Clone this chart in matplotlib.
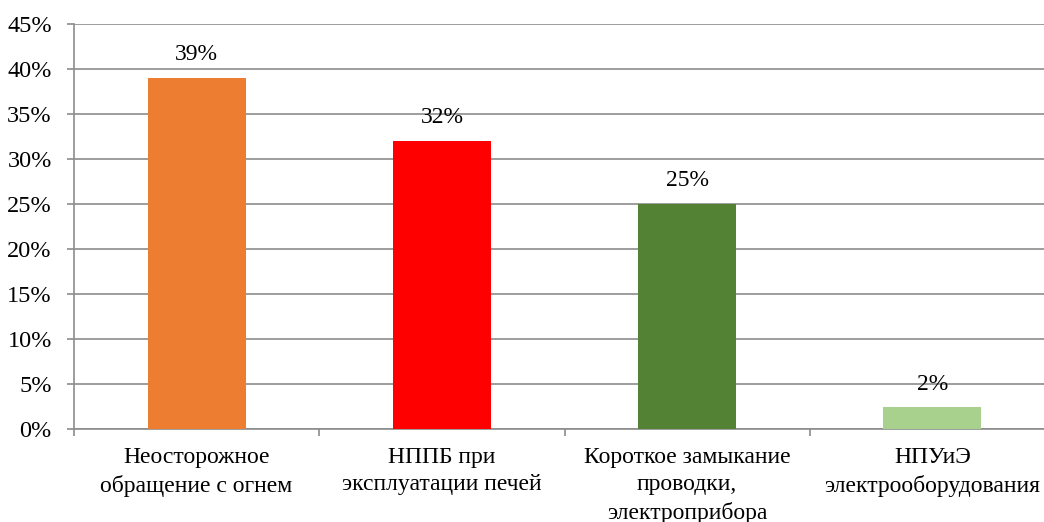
import matplotlib
matplotlib.use('Agg')
import matplotlib.pyplot as plt
from matplotlib.ticker import FuncFormatter, MultipleLocator, FixedLocator

categories = ['Неосторожное\nобращение с огнем',
              'НППБ при\nэксплуатации печей',
              'Короткое замыкание\nпроводки,\nэлектроприбора',
              'НПУиЭ\nэлектрооборудования']
values = [39, 32, 25, 2.4]
value_labels = ['39%', '32%', '25%', '2%']
colors = ['#ED7D31', '#FF0000', '#548235', '#A9D18E']

plt.rcParams['font.family'] = ['Liberation Serif', 'DejaVu Serif']

W, H = 1044, 522
fig = plt.figure(figsize=(W / 100, H / 100), dpi=100)
# plot area runs a bit past the right edge of the picture
ax = fig.add_axes([74 / W, (H - 429) / H, (1055 - 74) / W, (429 - 24) / H])

x = range(len(categories))
ax.bar(x, values, width=0.4, color=colors, zorder=3)
for xi, v, lab in zip(x, values, value_labels):
    ax.annotate(lab, (xi, v), xytext=(0, 9), textcoords='offset points',
                ha='center', va='bottom', fontsize=17, zorder=4)

ax.set_xlim(-0.5, len(categories) - 0.5)
ax.set_ylim(0, 45)
ax.yaxis.set_major_locator(MultipleLocator(5))
ax.yaxis.set_major_formatter(FuncFormatter(lambda v, p: '{:.0f}%'.format(v)))
ax.grid(axis='y', color='#8c8c8c', linewidth=1.2, zorder=0)

ax.set_xticks(list(x))
ax.set_xticklabels(categories, fontsize=17, linespacing=1.38)
ax.tick_params(axis='x', length=0, pad=13)
ax.xaxis.set_minor_locator(FixedLocator([i + 0.5 for i in range(-1, len(categories))]))
ax.tick_params(axis='x', which='minor', length=5, color='#8c8c8c', width=1.2)
ax.tick_params(axis='y', length=5, color='#8c8c8c', width=1.2, labelsize=17.5, pad=11)

for side in ['top', 'right']:
    ax.spines[side].set_visible(False)
for side in ['left', 'bottom']:
    ax.spines[side].set_color('#8c8c8c')
    ax.spines[side].set_linewidth(1.2)

fig.savefig('out.png', dpi=100)
